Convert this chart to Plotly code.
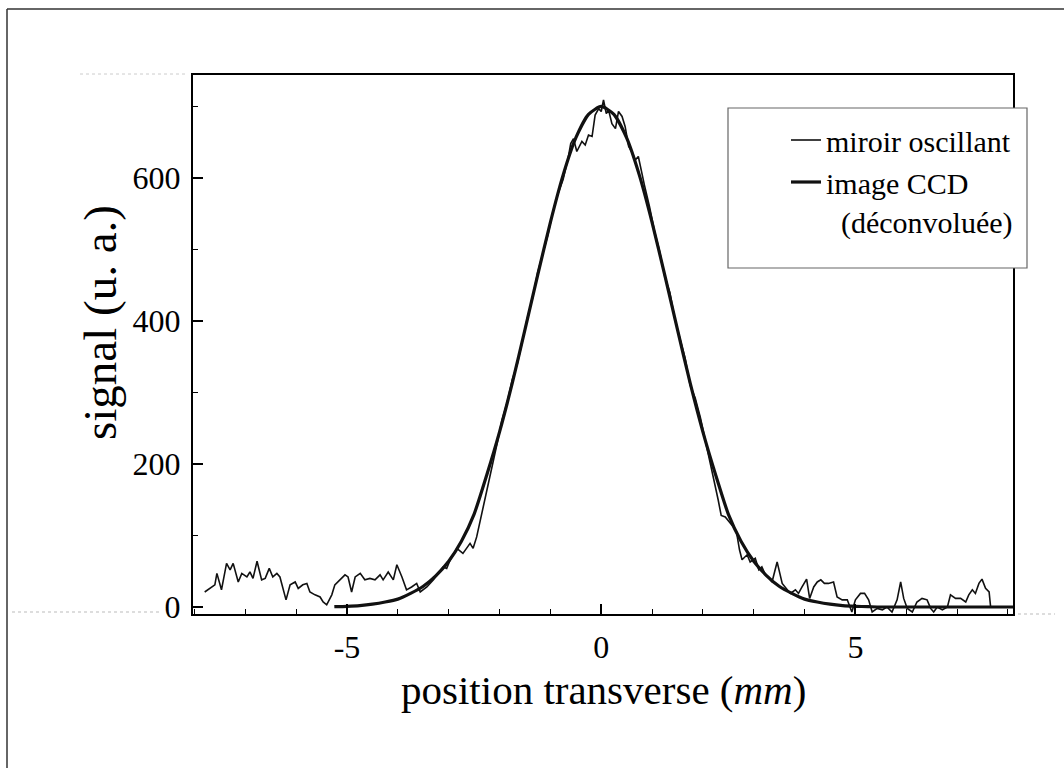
import plotly.graph_objects as go

# ---- data ----
# "miroir oscillant" : noisy measured profile
mirror_x = [-7.80, -7.70, -7.60, -7.56, -7.47, -7.37, -7.30, -7.24, -7.14, -7.07,
            -6.97, -6.91, -6.85, -6.77, -6.68, -6.61, -6.53, -6.46, -6.38, -6.32,
            -6.20, -6.12, -6.02, -5.96, -5.87, -5.79, -5.73, -5.63, -5.53, -5.47,
            -5.40, -5.30, -5.24, -5.14, -5.04, -4.98, -4.91, -4.84, -4.74, -4.65,
            -4.55, -4.45, -4.35, -4.29, -4.19, -4.09, -4.02, -3.92, -3.83, -3.73,
            -3.63, -3.56, -3.43, -3.30, -3.11, -3.04, -2.97, -2.84, -2.72, -2.58,
            -2.52, -2.45, -2.35, -2.25, -2.15, -2.05, -1.95, -1.85, -1.75, -1.65,
            -1.55, -1.45, -1.35, -1.25, -1.15, -1.05, -0.95, -0.85, -0.75, -0.65,
            -0.60, -0.545, -0.48, -0.38, -0.315, -0.25, -0.18, -0.12, -0.05, 0.0,
            0.045, 0.10, 0.145, 0.21, 0.28, 0.34, 0.41, 0.47, 0.54, 0.60,
            0.67, 0.73, 0.85, 0.95, 1.05, 1.15, 1.25, 1.35, 1.45, 1.55,
            1.65, 1.75, 1.85, 1.95, 2.05, 2.15, 2.25, 2.30, 2.36, 2.44,
            2.60, 2.66, 2.72, 2.77, 2.87, 2.93, 3.03, 3.10, 3.16, 3.23,
            3.29, 3.36, 3.46, 3.56, 3.66, 3.72, 3.82, 3.88, 3.95, 4.04,
            4.10, 4.18, 4.25, 4.32, 4.39, 4.47, 4.57, 4.64, 4.74, 4.84,
            4.93, 5.00, 5.10, 5.18, 5.26, 5.33, 5.43, 5.53, 5.62, 5.72,
            5.82, 5.89, 5.95, 6.02, 6.12, 6.21, 6.31, 6.41, 6.48, 6.54,
            6.61, 6.71, 6.81, 6.87, 6.97, 7.07, 7.17, 7.23, 7.30, 7.36,
            7.43, 7.49, 7.56, 7.63, 7.66]
mirror_y = [21, 26, 31, 47, 24, 61, 52, 61, 35, 47,
            42, 49, 40, 64, 38, 40, 54, 42, 47, 42,
            10, 31, 35, 26, 31, 33, 21, 17, 14, 7,
            3, 17, 31, 38, 45, 42, 21, 42, 47, 38,
            40, 38, 45, 38, 49, 38, 59, 42, 24, 28,
            33, 21, 28, 38, 56, 54, 66, 82, 75, 89,
            82, 98, 130, 160, 195, 228, 262, 286, 318, 340,
            372, 405, 432, 468, 494, 520, 553, 578, 598, 628,
            648, 655, 637, 651, 646, 660, 658, 688, 697, 693,
            709, 690, 695, 676, 669, 693, 686, 672, 644, 637,
            625, 630, 590, 560, 525, 497, 462, 440, 402, 375,
            348, 310, 292, 265, 232, 200, 170, 150, 128, 126,
            112, 105, 80, 66, 73, 63, 68, 52, 56, 45,
            42, 35, 63, 33, 24, 19, 24, 19, 28, 39,
            12, 28, 35, 38, 33, 33, 35, 14, 10, 10,
            -7, 10, 19, 19, 10, -7, -2, -4, 0, -7,
            10, 35, 12, -2, -7, 7, 12, 10, -2, -7,
            0, -4, 0, 17, 12, 12, 7, 17, 24, 19,
            33, 39, 26, 21, 0]

# "image CCD (déconvoluée)" : smooth profile
ccd_x = [-5.25, -5.0, -4.75, -4.5, -4.25, -4.0, -3.75, -3.5, -3.25, -3.0,
         -2.75, -2.5, -2.25, -2.0, -1.75, -1.5, -1.25, -1.0, -0.75, -0.5,
         -0.25, 0.0, 0.25, 0.5, 0.75, 1.0, 1.25, 1.5, 1.75, 2.0,
         2.25, 2.5, 2.75, 3.0, 3.25, 3.5, 3.75, 4.0, 4.25, 4.5,
         4.75, 5.0, 5.25, 5.5, 6.0, 7.0, 8.1]
ccd_y = [0.5, 1, 2, 4, 7, 11, 19, 29, 44, 64,
         92, 130, 185, 245, 313, 388, 464, 538, 604, 656,
         689, 700, 689, 656, 604, 538, 464, 388, 313, 245,
         185, 130, 92, 64, 44, 29, 19, 11, 7, 4,
         2, 1, 0.5, 0, 0, 0, 0]

x_ticks = [-5, 0, 5]
x_tick_labels = ["-5", "0", "5"]
y_ticks = [0, 200, 400, 600]
y_tick_labels = ["0", "200", "400", "600"]

FONT = "Liberation Serif, Times New Roman, serif"

fig = go.Figure()
fig.add_trace(go.Scatter(
    x=mirror_x, y=mirror_y, mode="lines", name="miroir oscillant",
    line=dict(color="#111111", width=1.6)))
fig.add_trace(go.Scatter(
    x=ccd_x, y=ccd_y, mode="lines", name="image CCD<br>\u00a0\u00a0(déconvoluée)",
    line=dict(color="#111111", width=3.2, shape="spline", smoothing=0.6)))

axis_common = dict(
    showline=True, linecolor="black", linewidth=2, mirror=True,
    showgrid=False, zeroline=False, ticks="inside", tickcolor="black",
    tickwidth=1.5, tickfont=dict(family=FONT, size=32, color="black"),
)
fig.update_xaxes(
    range=[-8.03, 8.1], tickvals=x_ticks, ticktext=x_tick_labels, ticklen=10,
    ticklabelstandoff=4,
    minor=dict(dtick=1, ticks="inside", ticklen=5, tickcolor="black", tickwidth=1.2),
    **axis_common)
fig.update_yaxes(
    range=[-9.8, 744], tickvals=y_ticks, ticktext=y_tick_labels, ticklen=10,
    ticklabelstandoff=4,
    minor=dict(dtick=100, ticks="inside", ticklen=5, tickcolor="black", tickwidth=1.2),
    **axis_common)

W, H = 1064, 768
L, R, T, B = 193, 1013, 75, 614
pw, ph = R - L, B - T

def px(x):
    return (x - L) / pw

def py(y):
    return (B - y) / ph

shapes = [
    # outer frame of the scanned figure
    dict(type="line", xref="paper", yref="paper", x0=px(7), x1=px(1064), y0=py(9), y1=py(9),
         line=dict(color="#333333", width=1.5)),
    dict(type="line", xref="paper", yref="paper", x0=px(7), x1=px(7), y0=py(9), y1=py(768),
         line=dict(color="#333333", width=1.5)),
    # faint scan dotted guides
    dict(type="line", xref="paper", yref="paper", x0=px(12), x1=px(160), y0=py(612), y1=py(612),
         line=dict(color="#bbbbbb", width=1, dash="dot")),
    dict(type="line", xref="paper", yref="paper", x0=px(1018), x1=px(1055), y0=py(614), y1=py(614),
         line=dict(color="#bbbbbb", width=1, dash="dot")),
    dict(type="line", xref="paper", yref="paper", x0=px(80), x1=px(188), y0=py(74), y1=py(74),
         line=dict(color="#cccccc", width=1, dash="dot")),
    # legend box
    dict(type="rect", xref="paper", yref="paper", x0=px(728), x1=px(1027), y0=py(268), y1=py(108),
         fillcolor="white", line=dict(color="#666666", width=1.2), layer="above"),
]

annotations = [
    dict(text="signal (u. a.)", textangle=-90, xref="paper", yref="paper",
         x=px(100), y=py(323), xanchor="center", yanchor="middle", showarrow=False,
         font=dict(family=FONT, size=47, color="black")),
    dict(text="position transverse (<i>mm</i>)", xref="paper", yref="paper",
         x=px(603), y=py(690), xanchor="center", yanchor="middle", showarrow=False,
         font=dict(family=FONT, size=41, color="black")),
]

fig.update_layout(
    width=W, height=H,
    margin=dict(l=L, r=W - R, t=T, b=H - B),
    paper_bgcolor="white", plot_bgcolor="white",
    font=dict(family=FONT, color="black"),
    shapes=shapes,
    annotations=annotations,
    legend=dict(x=px(786), y=py(114), xanchor="left", yanchor="top",
                bgcolor="rgba(0,0,0,0)", borderwidth=0, valign="top",
                font=dict(family=FONT, size=30, color="black"),
                tracegroupgap=0),
    showlegend=True,
)

fig.write_html("out.html", config={"displayModeBar": False},
               post_script="document.body.style.margin='0';document.body.style.overflow='hidden';")
